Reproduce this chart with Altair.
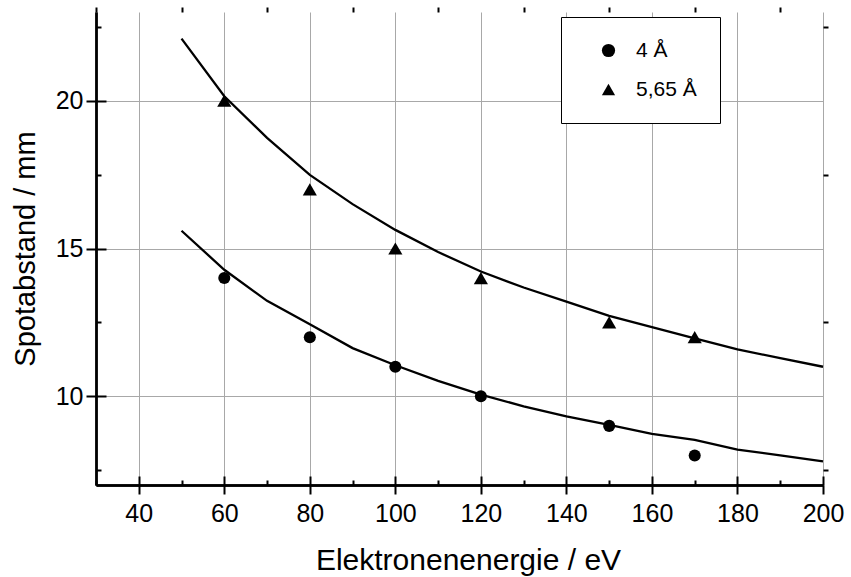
import altair as alt
import pandas as pd

# Electron energy (eV) at which the calculated curves are sampled
energy_curve = [50, 60, 70, 80, 90, 100, 110, 120, 130, 140, 150, 160, 170, 180, 190, 200]
# Calculated spot distance (mm) for both lattice spacings
curve_4 = [15.6, 14.28, 13.23, 12.44, 11.63, 11.05, 10.52, 10.06, 9.66, 9.32, 9.03, 8.73, 8.53, 8.2, 8.0, 7.8]
curve_565 = [22.1, 20.15, 18.74, 17.49, 16.5, 15.63, 14.88, 14.22, 13.68, 13.2, 12.72, 12.34, 11.96, 11.59, 11.29, 11.0]

# Measured spot distances
energy_meas = [60, 80, 100, 120, 150, 170]
spot_4 = [14, 12, 11, 10, 9, 8]
spot_565 = [20, 17, 15, 14, 12.5, 12]

series_names = ["4 Å", "5,65 Å"]
series_shapes = ["circle", "triangle-up"]

x_major = [40, 60, 80, 100, 120, 140, 160, 180, 200]
x_minor = [30, 50, 70, 90, 110, 130, 150, 170, 190]
y_major = [10, 15, 20]
y_minor = [7.5, 12.5, 17.5, 22.5]

curves = pd.DataFrame({
    "energy": energy_curve * 2,
    "spot": curve_4 + curve_565,
    "series": [series_names[0]] * len(energy_curve) + [series_names[1]] * len(energy_curve),
})
points = pd.DataFrame({
    "energy": energy_meas * 2,
    "spot": spot_4 + spot_565,
    "series": [series_names[0]] * len(energy_meas) + [series_names[1]] * len(energy_meas),
})

W, H = 727, 473
FONT = "Liberation Sans"
GRID = "#a8a8a8"

xscale = alt.Scale(domain=[30, 200], nice=False, zero=False)
yscale = alt.Scale(domain=[7, 23], nice=False, zero=False)


def axis(values, tick, offset=0, grid=False, labels=False, domain=True, **extra):
    return alt.Axis(
        values=values, tickSize=tick, tickColor="black", tickWidth=2,
        grid=grid, gridColor=GRID, gridWidth=1,
        labels=labels, labelFont=FONT, labelFontSize=25, labelColor="black",
        labelFlush=False, labelOverlap=False,
        domain=domain, domainColor="black", domainWidth=2.4,
        offset=offset, **extra,
    )


def pos(xa, ya):
    return dict(
        x=alt.X("energy:Q", scale=xscale, axis=xa),
        y=alt.Y("spot:Q", scale=yscale, axis=ya),
    )


# calculated curves, carrying the labelled axes and the grid
lines = alt.Chart(curves).mark_line(color="black", strokeWidth=2.3).encode(
    **pos(
        axis(x_major, 9, grid=True, labels=True, labelPadding=7,
             title="Elektronenenergie / eV", titleFont=FONT, titleFontSize=30,
             titleFontWeight="normal", titleColor="black",
             titleX=372, titleY=84, titleBaseline="alphabetic"),
        axis(y_major, 10, grid=True, labels=True, labelPadding=3,
             title="Spotabstand / mm", titleFont=FONT, titleFontSize=29,
             titleFontWeight="normal", titleColor="black",
             titleX=-62, titleY=H / 2, titleBaseline="alphabetic"),
    ),
    detail="series:N",
)

# measured values, carrying the minor ticks on bottom and left
marks = alt.Chart(points).mark_point(filled=True, color="black", opacity=1).encode(
    **pos(axis(x_minor, 5, domain=False, title=None),
          axis(y_minor, 5, domain=False, title=None)),
    shape=alt.Shape(
        "series:N",
        scale=alt.Scale(domain=series_names, range=series_shapes),
        legend=alt.Legend(
            title=None, orient="none", legendX=465, legendY=5,
            direction="vertical", padding=23, rowPadding=17,
            strokeColor="black", fillColor="white", cornerRadius=0,
            labelFont=FONT, labelFontSize=21, labelColor="black",
            symbolSize=175, symbolFillColor="black", symbolStrokeColor="black",
            symbolOffset=14, labelOffset=17,
        ),
    ),
    size=alt.condition(alt.datum.series == series_names[0], alt.value(145), alt.value(200)),
)

# mirrored axes on top and right, ticks pointing inward
top_right_major = alt.Chart(points).mark_point(opacity=0).encode(
    **pos(axis(x_major, 9, offset=-H, title=None),
          axis(y_major, 10, offset=-W, title=None)),
)
top_right_minor = alt.Chart(points).mark_point(opacity=0).encode(
    **pos(axis(x_minor, 5, offset=-H, domain=False, title=None),
          axis(y_minor, 5, offset=-W, domain=False, title=None)),
)

chart = (
    alt.layer(lines, marks, top_right_major, top_right_minor)
    .resolve_axis(x="independent", y="independent")
    .properties(
        width=W, height=H,
        autosize=alt.AutoSizeParams(type="none"),
        padding={"left": 96, "top": 12, "right": 28, "bottom": 92},
        background="white",
    )
    .configure_view(strokeWidth=0)
)

chart.save("out.html", embed_options={"renderer": "svg", "actions": False})
